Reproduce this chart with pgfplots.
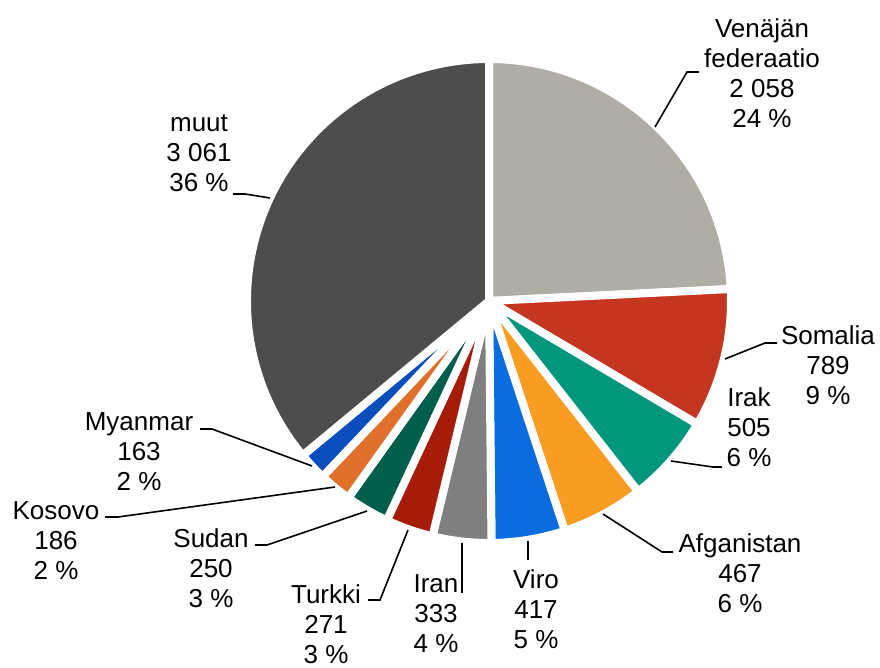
\documentclass[border=0pt]{standalone}
\usepackage{pgfplots}
\usepackage{pgfplotstable}
\pgfplotsset{compat=1.18}
\usepackage{fontspec}
\setmainfont{Liberation Sans}

\definecolor{cVen}{HTML}{AFADA5}
\definecolor{cSom}{HTML}{C4361F}
\definecolor{cIrak}{HTML}{00977C}
\definecolor{cAfg}{HTML}{F89C22}
\definecolor{cViro}{HTML}{0A6CDE}
\definecolor{cIran}{HTML}{7F7F7F}
\definecolor{cTur}{HTML}{A61C09}
\definecolor{cSud}{HTML}{005E4B}
\definecolor{cKos}{HTML}{E0702C}
\definecolor{cMya}{HTML}{0A4EBE}
\definecolor{cMuut}{HTML}{4D4D4D}

\tikzset{
  lbl/.style={align=center,anchor=center,inner sep=0pt,font=\fontsize{26bp}{30bp}\selectfont},
  ldr/.style={draw=black,line width=1.6bp}}

\pgfplotstableread[col sep=comma]{
name,value,col
Venajan federaatio,2058,cVen
Somalia,789,cSom
Irak,505,cIrak
Afganistan,467,cAfg
Viro,417,cViro
Iran,333,cIran
Turkki,271,cTur
Sudan,250,cSud
Kosovo,186,cKos
Myanmar,163,cMya
muut,3061,cMuut
}\piedata

\begin{document}
\begin{tikzpicture}
\begin{axis}[at={(0,0)},anchor=south west,scale only axis,
  width=880bp,height=668bp,xmin=0,xmax=880,ymin=0,ymax=668,
  hide axis,clip=false]
\pgfplotstablegetrowsof{\piedata}
\pgfmathtruncatemacro{\nrows}{\pgfplotsretval-1}
\def\total{0}
\pgfplotsforeachungrouped \i in {0,...,\nrows}{%
  \pgfplotstablegetelem{\i}{value}\of\piedata
  \pgfmathsetmacro{\total}{\total+\pgfplotsretval}%
}
\def\cum{0}
\pgfplotsforeachungrouped \i in {0,...,\nrows}{%
  \pgfplotstablegetelem{\i}{value}\of\piedata
  \let\v\pgfplotsretval
  \pgfplotstablegetelem{\i}{col}\of\piedata
  \let\c\pgfplotsretval
  \pgfmathsetmacro{\aone}{90-360*(\cum/\total)}%
  \pgfmathsetmacro{\cum}{\cum+\v}%
  \pgfmathsetmacro{\atwo}{90-360*(\cum/\total)}%
  \edef\temp{\noexpand\filldraw[fill=\c,draw=white,line width=8bp,line join=round]
    (axis cs:489,367) -- ++(\aone:242bp) arc[start angle=\aone,end angle=\atwo,radius=242bp] -- cycle;}%
  \temp
}
% leader lines
\draw[ldr] (axis cs:655,541) -- (axis cs:687,596) -- (axis cs:699,596);
\draw[ldr] (axis cs:725,309) -- (axis cs:765,325) -- (axis cs:777,325);
\draw[ldr] (axis cs:671,207) -- (axis cs:713,201) -- (axis cs:722,201);
\draw[ldr] (axis cs:603,154) -- (axis cs:662,116) -- (axis cs:673,116);
\draw[ldr] (axis cs:528,127) -- (axis cs:528,108);
\draw[ldr] (axis cs:462,125) -- (axis cs:462,75);
\draw[ldr] (axis cs:408,138) -- (axis cs:380,68) -- (axis cs:368,68);
\draw[ldr] (axis cs:367,157) -- (axis cs:267,123) -- (axis cs:255,123);
\draw[ldr] (axis cs:335,181) -- (axis cs:118,151) -- (axis cs:105,151);
\draw[ldr] (axis cs:312,202) -- (axis cs:212,239) -- (axis cs:200,239);
\draw[ldr] (axis cs:270,470) -- (axis cs:245,474) -- (axis cs:233,474);
% labels
\node[lbl] at (axis cs:762,595) {Venäjän\\federaatio\\2 058\\24 \%};
\node[lbl] at (axis cs:828,303) {Somalia\\789\\9 \%};
\node[lbl] at (axis cs:749,241) {Irak\\505\\6 \%};
\node[lbl] at (axis cs:740,95) {Afganistan\\467\\6 \%};
\node[lbl] at (axis cs:536,59) {Viro\\417\\5 \%};
\node[lbl] at (axis cs:436,54) {Iran\\333\\4 \%};
\node[lbl] at (axis cs:326,44) {Turkki\\271\\3 \%};
\node[lbl] at (axis cs:211,100) {Sudan\\250\\3 \%};
\node[lbl] at (axis cs:56,127) {Kosovo\\186\\2 \%};
\node[lbl] at (axis cs:139,216) {Myanmar\\163\\2 \%};
\node[lbl] at (axis cs:199,515) {muut\\3 061\\36 \%};
\end{axis}
\pgfresetboundingbox
\useasboundingbox (0,0) rectangle (880bp,668bp);
\end{tikzpicture}
\end{document}
